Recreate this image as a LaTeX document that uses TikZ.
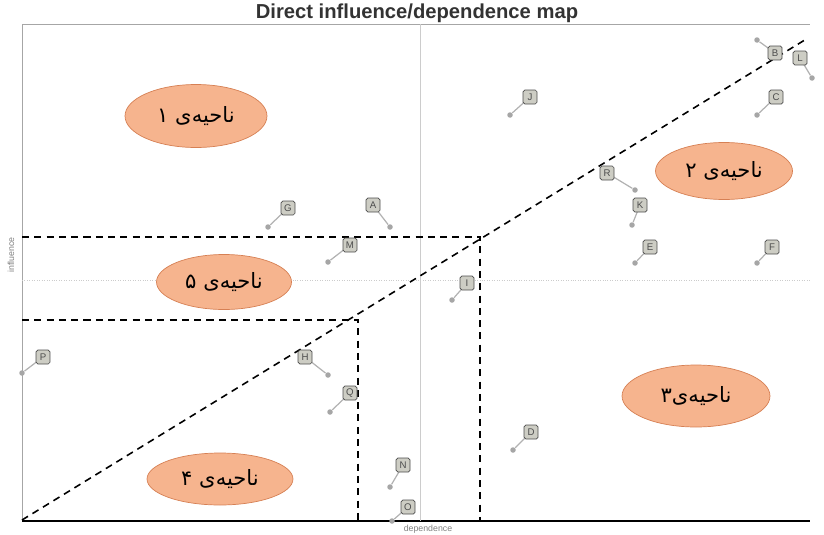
\documentclass[tikz,border=0pt]{standalone}
\usepackage{fontspec}
\setsansfont{Liberation Sans}
\newfontfamily\persianfont[Script=Arabic]{DejaVu Sans}
\TeXXeTstate=1
\usetikzlibrary{shapes.geometric}
\definecolor{zonefill}{RGB}{246,180,142}
\definecolor{zoneline}{RGB}{214,128,84}
\definecolor{boxfill}{RGB}{205,205,196}
\tikzset{
  zone/.style={ellipse, draw=zoneline, fill=zonefill, inner sep=0pt,
    font=\persianfont\fontsize{12}{14}\selectfont},
  varbox/.style={draw=black!70, fill=boxfill, rounded corners=1pt, minimum size=0.28cm,
    inner sep=0pt, font=\sffamily\fontsize{5.5}{6}\selectfont, text=black!70},
  varmark/.style={circle, fill=gray!70, inner sep=0pt, minimum size=0.11cm},
  cut/.style={dashed, line width=0.9pt, dash pattern=on 4pt off 3pt}
}
\begin{document}
\begin{tikzpicture}[x=0.02cm, y=-0.02cm]
        \useasboundingbox (0,0) rectangle (824,534);
        % frame and axes
        \draw[gray!70] (22,24) -- (810,24);
        \draw[gray!70] (22,24) -- (22,521);
        \draw[gray!70, double] (810,35) -- (810,521);
        \draw[black, line width=0.8pt] (22,521) -- (810,521);
        \draw[gray!40] (420,24) -- (420,521);
        \draw[gray!40, densely dotted] (22,280) -- (810,280);
        \node[font=\sffamily\bfseries\fontsize{11.5}{13}\selectfont, text=black!80] (title) at (417,13) {Direct influence/dependence map};
        \node[font=\sffamily\fontsize{5}{6}\selectfont, text=gray, rotate=90] (ylab) at (11,255) {influence};
        \node[font=\sffamily\fontsize{5}{6}\selectfont, text=gray] (xlab) at (428,529) {dependence};
        % zone borders
        \draw[cut] (22,520) -- (808,38);
        \draw[cut] (22,237) -- (480,237) -- (480,521);
        \draw[cut] (22,320) -- (358,320) -- (358,521);
        % zones
        \node[zone, minimum width=2.84cm, minimum height=1.26cm] (z1) at (196,116) {\beginR ناحیه‌ی ۱\endR};
        \node[zone, minimum width=2.74cm, minimum height=1.14cm] (z2) at (724,171) {\beginR ناحیه‌ی ۲\endR};
        \node[zone, minimum width=2.96cm, minimum height=1.24cm] (z3) at (696,396) {\beginR ناحیه‌ی۳\endR};
        \node[zone, minimum width=2.92cm, minimum height=1.04cm] (z4) at (220,479) {\beginR ناحیه‌ی ۴\endR};
        \node[zone, minimum width=2.70cm, minimum height=1.10cm] (z5) at (224,282) {\beginR ناحیه‌ی ۵\endR};
        % variables
        \foreach \n/\bx/\by/\mx/\my in {B/775/53/757/40, L/800/58/812/78, C/776/97/757/115,
          J/530/97/510/115, R/607/173/635/190, K/640/205/632/225, E/650/247/635/263,
          F/772/247/757/263, G/288/208/268/227, A/373/205/390/227, M/350/245/328/262,
          I/467/283/452/300, P/43/357/22/373, H/305/357/328/375, Q/350/393/330/412,
          D/531/432/513/450, N/403/465/390/487, O/408/507/392/521}
        {
          \node[varmark] (mark\n) at (\mx,\my) {};
          \draw[gray!60, line width=0.7pt] (\bx,\by) -- (mark\n);
          \node[varbox] (box\n) at (\bx,\by) {\n};
        }
      \end{tikzpicture}
\end{document}
